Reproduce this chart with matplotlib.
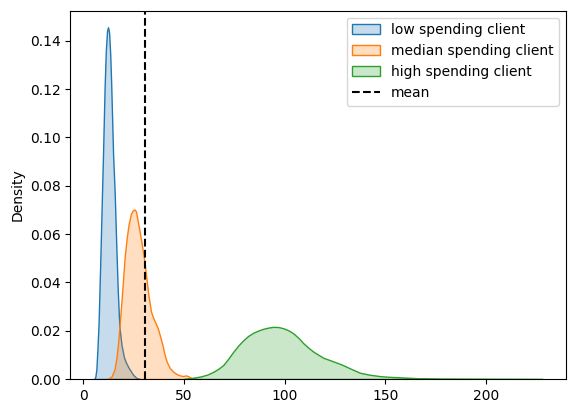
import matplotlib
matplotlib.use("Agg")
import matplotlib.pyplot as plt
from matplotlib.colors import to_rgba

# Density curves
low_x = [5.5, 6.0, 6.5, 7.0, 7.6, 8.5, 9.3, 9.8, 10.6, 11.2, 11.8, 12.3, 12.8, 13.4,
         13.9, 14.8, 15.6, 16.4, 17.1, 17.9, 19.0, 20.2, 21.2, 22.7, 24.8, 26.5, 28.0]
low_d = [0.0, 0.001, 0.004, 0.012, 0.023, 0.0506, 0.077, 0.093, 0.121, 0.136, 0.1442,
         0.1456, 0.1435, 0.134, 0.121, 0.093, 0.077, 0.055, 0.037, 0.022, 0.014,
         0.009, 0.0068, 0.0044, 0.0017, 0.0004, 0.0]

med_x = [12.0, 14.0, 15.5, 16.5, 17.3, 18.1, 19.4, 20.5, 21.5, 22.5, 23.7, 24.6, 25.4,
         26.1, 26.7, 28.0, 29.2, 30.3, 31.3, 32.3, 33.6, 34.6, 35.6, 37.0, 38.2, 39.3,
         40.4, 41.4, 43.0, 44.7, 46.5, 48.0, 49.5, 51.0, 52.0, 53.5, 56.0]
med_d = [0.0, 0.001, 0.004, 0.009, 0.015, 0.023, 0.037, 0.05, 0.058, 0.064, 0.0685,
         0.0698, 0.0702, 0.0695, 0.067, 0.061, 0.055, 0.049, 0.042, 0.035, 0.028,
         0.0255, 0.0237, 0.021, 0.0175, 0.0141, 0.010, 0.0072, 0.0045, 0.003, 0.002,
         0.0015, 0.0012, 0.0015, 0.0012, 0.0005, 0.0]

high_x = [50.0, 53.0, 58.0, 61.5, 64.6, 67.0, 69.5, 72.0, 74.5, 77.0, 79.5, 82.0, 84.5,
          87.0, 89.4, 92.0, 94.4, 97.0, 99.4, 102.0, 104.3, 107.0, 109.3, 112.0, 114.3,
          117.0, 119.2, 123.5, 128.3, 133.0, 137.4, 142.0, 147.3, 152.0, 157.2,
          167.0, 177.0, 190.0, 205.0, 220.0, 228.0]
high_d = [0.0, 0.0003, 0.001, 0.0018, 0.003, 0.0042, 0.0058, 0.0084, 0.0113, 0.0139,
          0.0161, 0.0179, 0.0192, 0.0201, 0.0208, 0.0213, 0.0216, 0.0215, 0.021, 0.0201,
          0.0189, 0.0169, 0.0148, 0.0128, 0.0113, 0.0099, 0.0088, 0.0075, 0.006,
          0.0042, 0.0026, 0.0018, 0.0012, 0.0009, 0.0007, 0.0003, 0.00015, 0.0001,
          0.00005, 0.00002, 0.0]

labels = ["low spending client", "median spending client", "high spending client"]
colors = ["#1f77b4", "#ff7f0e", "#2ca02c"]
mean_value = 30.65

fig = plt.figure(figsize=(5.76, 4.13), dpi=100)
ax = fig.add_axes([0.122, 0.0823, 0.861, 0.892])

for xs, ds, lab, c in zip([low_x, med_x, high_x], [low_d, med_d, high_d], labels, colors):
    ax.fill_between(xs, ds, 0, facecolor=to_rgba(c, 0.25), edgecolor=c,
                    linewidth=1.0, label=lab)

ax.axvline(mean_value, color="black", linestyle="--", linewidth=1.5, label="mean")

ax.set_xlim(-6.46, 239.8)
ax.set_ylim(0, 0.1525)
ax.set_xticks([0, 50, 100, 150, 200])
ax.set_yticks([0.0, 0.02, 0.04, 0.06, 0.08, 0.10, 0.12, 0.14])
ax.set_ylabel("Density")
ax.legend(loc="upper right")

fig.savefig("out.png", dpi=100)
